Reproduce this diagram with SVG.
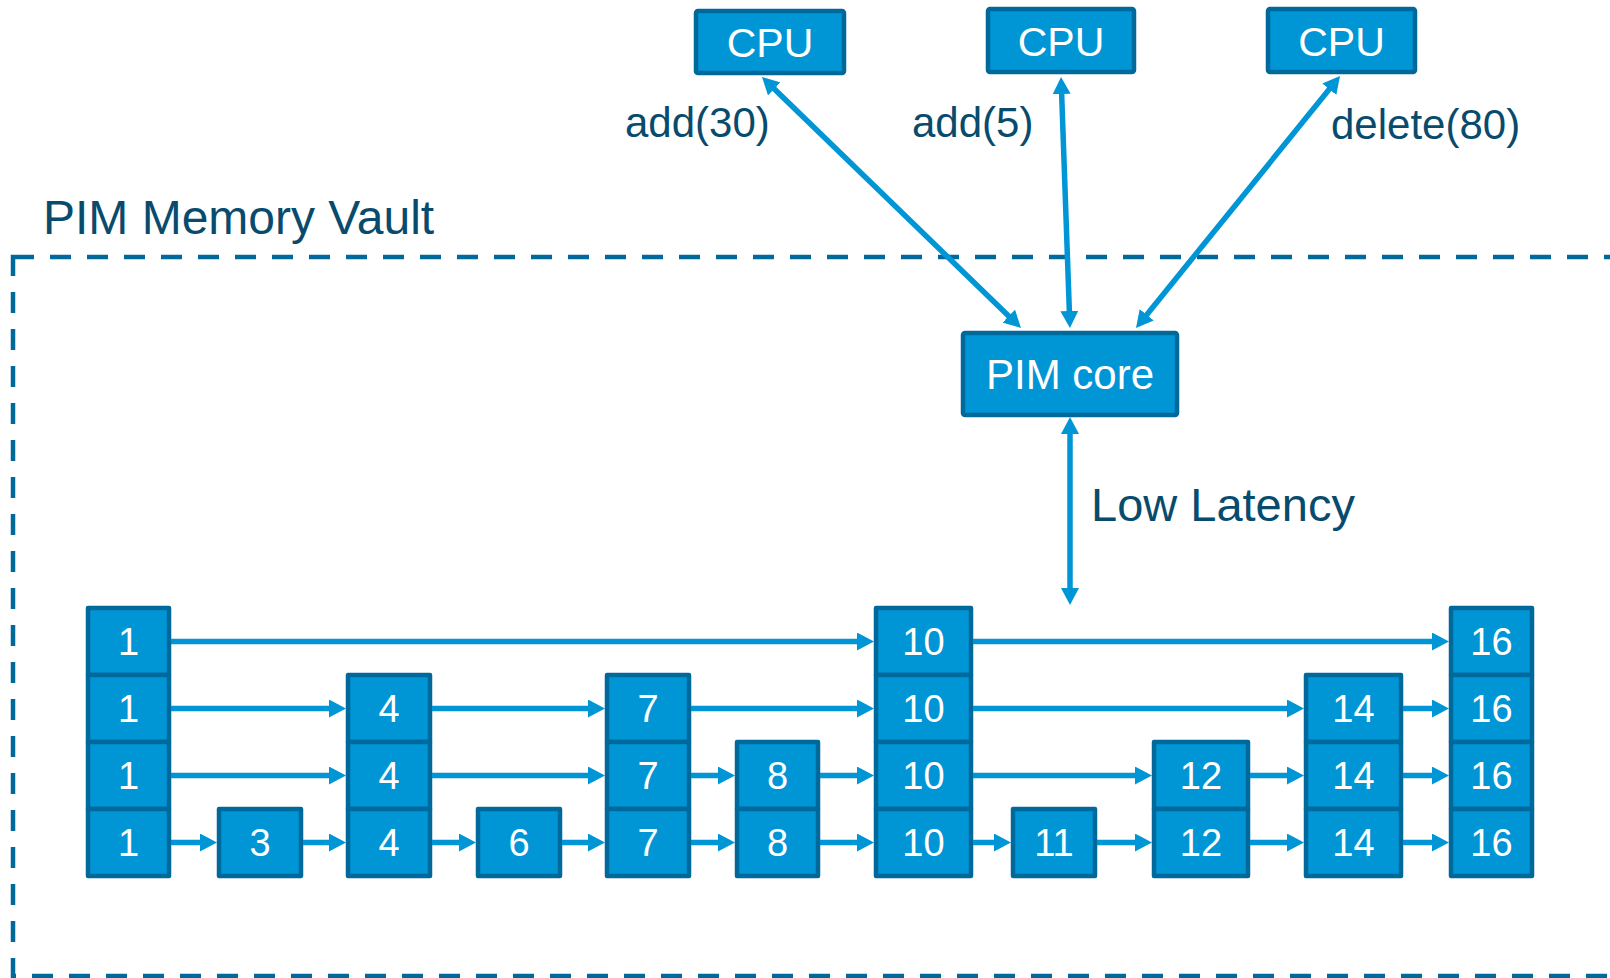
<svg xmlns="http://www.w3.org/2000/svg" width="1610" height="978" viewBox="0 0 1610 978">
  <style>
    .box { fill: #0096D6; stroke: #00699B; stroke-width: 4.5; stroke-linejoin: round; }
    .lbl { fill: #FFFFFF; font-family: "Liberation Sans", Arial, sans-serif; text-anchor: middle; }
    .num { font-size: 38px; }
    .cpu { font-size: 41px; }
    .note { fill: #084B6D; font-family: "Liberation Sans", Arial, sans-serif; }
    .link { stroke: #0096D6; stroke-width: 5.5; fill: none; }
    .one { marker-end: url(#head); }
    .two { marker-start: url(#head); marker-end: url(#head); }
  </style>
  <defs>
    <marker id="head" markerUnits="userSpaceOnUse" markerWidth="18" markerHeight="18" viewBox="0 0 18 18" refX="7" refY="9" orient="auto-start-reverse">
      <path d="M0,0 L17,9 L0,18 z" fill="#0096D6"/>
    </marker>
  </defs>

  <rect width="1610" height="978" fill="#FFFFFF"/>

  <!-- vault boundary -->
  <g id="vault">
    <rect x="13" y="257" width="1640" height="719" fill="none" stroke="#00699B" stroke-width="4.5" stroke-dasharray="21 16"/>
    <text class="note" x="43" y="234" font-size="48">PIM Memory Vault</text>
  </g>

  <!-- processors -->
  <g id="cpu1">
    <rect class="box" x="696" y="11" width="148" height="62" rx="2"/>
    <text class="lbl cpu" x="770" y="57">CPU</text>
  </g>
  <g id="cpu2">
    <rect class="box" x="988" y="9" width="146" height="63" rx="2"/>
    <text class="lbl cpu" x="1061" y="56">CPU</text>
  </g>
  <g id="cpu3">
    <rect class="box" x="1268" y="9" width="147" height="63" rx="2"/>
    <text class="lbl cpu" x="1341.5" y="56">CPU</text>
  </g>
  <g id="pimcore">
    <rect class="box" x="963" y="333" width="214" height="82" rx="2"/>
    <text class="lbl" x="1070" y="389" font-size="42">PIM core</text>
  </g>

  <!-- operation labels -->
  <g id="ops">
    <text class="note" x="625" y="137" font-size="42">add(30)</text>
    <text class="note" x="912" y="137" font-size="42">add(5)</text>
    <text class="note" x="1331" y="139" font-size="42">delete(80)</text>
    <text class="note" x="1091" y="521" font-size="47">Low Latency</text>
  </g>

  <!-- skip list columns: stroke-centre grid rows 608/675/742/809/876 -->
  <g id="n1">
    <rect class="box" x="88" y="608" width="81" height="67"/>
    <rect class="box" x="88" y="675" width="81" height="67"/>
    <rect class="box" x="88" y="742" width="81" height="67"/>
    <rect class="box" x="88" y="809" width="81" height="67"/>
    <text class="lbl num" x="128.5" y="655">1</text>
    <text class="lbl num" x="128.5" y="722">1</text>
    <text class="lbl num" x="128.5" y="789">1</text>
    <text class="lbl num" x="128.5" y="856">1</text>
  </g>
  <g id="n3">
    <rect class="box" x="219" y="809" width="82" height="67"/>
    <text class="lbl num" x="260" y="856">3</text>
  </g>
  <g id="n4">
    <rect class="box" x="348" y="675" width="82" height="67"/>
    <rect class="box" x="348" y="742" width="82" height="67"/>
    <rect class="box" x="348" y="809" width="82" height="67"/>
    <text class="lbl num" x="389" y="722">4</text>
    <text class="lbl num" x="389" y="789">4</text>
    <text class="lbl num" x="389" y="856">4</text>
  </g>
  <g id="n6">
    <rect class="box" x="478" y="809" width="82" height="67"/>
    <text class="lbl num" x="519" y="856">6</text>
  </g>
  <g id="n7">
    <rect class="box" x="607" y="675" width="82" height="67"/>
    <rect class="box" x="607" y="742" width="82" height="67"/>
    <rect class="box" x="607" y="809" width="82" height="67"/>
    <text class="lbl num" x="648" y="722">7</text>
    <text class="lbl num" x="648" y="789">7</text>
    <text class="lbl num" x="648" y="856">7</text>
  </g>
  <g id="n8">
    <rect class="box" x="737" y="742" width="81" height="67"/>
    <rect class="box" x="737" y="809" width="81" height="67"/>
    <text class="lbl num" x="777.5" y="789">8</text>
    <text class="lbl num" x="777.5" y="856">8</text>
  </g>
  <g id="n10">
    <rect class="box" x="876" y="608" width="95" height="67"/>
    <rect class="box" x="876" y="675" width="95" height="67"/>
    <rect class="box" x="876" y="742" width="95" height="67"/>
    <rect class="box" x="876" y="809" width="95" height="67"/>
    <text class="lbl num" x="923.5" y="655">10</text>
    <text class="lbl num" x="923.5" y="722">10</text>
    <text class="lbl num" x="923.5" y="789">10</text>
    <text class="lbl num" x="923.5" y="856">10</text>
  </g>
  <g id="n11">
    <rect class="box" x="1013" y="809" width="82" height="67"/>
    <text class="lbl num" x="1054" y="856">11</text>
  </g>
  <g id="n12">
    <rect class="box" x="1154" y="742" width="94" height="67"/>
    <rect class="box" x="1154" y="809" width="94" height="67"/>
    <text class="lbl num" x="1201" y="789">12</text>
    <text class="lbl num" x="1201" y="856">12</text>
  </g>
  <g id="n14">
    <rect class="box" x="1306" y="675" width="95" height="67"/>
    <rect class="box" x="1306" y="742" width="95" height="67"/>
    <rect class="box" x="1306" y="809" width="95" height="67"/>
    <text class="lbl num" x="1353.5" y="722">14</text>
    <text class="lbl num" x="1353.5" y="789">14</text>
    <text class="lbl num" x="1353.5" y="856">14</text>
  </g>
  <g id="n16">
    <rect class="box" x="1451" y="608" width="81" height="67"/>
    <rect class="box" x="1451" y="675" width="81" height="67"/>
    <rect class="box" x="1451" y="742" width="81" height="67"/>
    <rect class="box" x="1451" y="809" width="81" height="67"/>
    <text class="lbl num" x="1491.5" y="655">16</text>
    <text class="lbl num" x="1491.5" y="722">16</text>
    <text class="lbl num" x="1491.5" y="789">16</text>
    <text class="lbl num" x="1491.5" y="856">16</text>
  </g>

  <!-- connectors: lines stop 10px short, arrowhead tip lands on the target edge -->
  <g id="connectors">
    <!-- CPU <-> PIM core -->
    <line class="link two" x1="769.2" y1="84" x2="1013.8" y2="321"/>
    <line class="link two" x1="1061.4" y1="87" x2="1069.6" y2="318"/>
    <line class="link two" x1="1333.7" y1="83.8" x2="1142.3" y2="320.2"/>
    <!-- PIM core <-> list -->
    <line class="link two" x1="1070" y1="427" x2="1070" y2="595" stroke-width="6"/>

    <!-- level 3 (y 641.5) -->
    <line class="link one" x1="171" y1="641.5" x2="864" y2="641.5"/>
    <line class="link one" x1="973" y1="641.5" x2="1439" y2="641.5"/>

    <!-- level 2 (y 708.5) -->
    <line class="link one" x1="171" y1="708.5" x2="336" y2="708.5"/>
    <line class="link one" x1="432" y1="708.5" x2="595" y2="708.5"/>
    <line class="link one" x1="691" y1="708.5" x2="864" y2="708.5"/>
    <line class="link one" x1="973" y1="708.5" x2="1294" y2="708.5"/>
    <line class="link one" x1="1403" y1="708.5" x2="1439" y2="708.5"/>

    <!-- level 1 (y 775.5) -->
    <line class="link one" x1="171" y1="775.5" x2="336" y2="775.5"/>
    <line class="link one" x1="432" y1="775.5" x2="595" y2="775.5"/>
    <line class="link one" x1="691" y1="775.5" x2="725" y2="775.5"/>
    <line class="link one" x1="820" y1="775.5" x2="864" y2="775.5"/>
    <line class="link one" x1="973" y1="775.5" x2="1142" y2="775.5"/>
    <line class="link one" x1="1250" y1="775.5" x2="1294" y2="775.5"/>
    <line class="link one" x1="1403" y1="775.5" x2="1439" y2="775.5"/>

    <!-- level 0 (y 842.5) -->
    <line class="link one" x1="171" y1="842.5" x2="207" y2="842.5"/>
    <line class="link one" x1="303" y1="842.5" x2="336" y2="842.5"/>
    <line class="link one" x1="432" y1="842.5" x2="466" y2="842.5"/>
    <line class="link one" x1="562" y1="842.5" x2="595" y2="842.5"/>
    <line class="link one" x1="691" y1="842.5" x2="725" y2="842.5"/>
    <line class="link one" x1="820" y1="842.5" x2="864" y2="842.5"/>
    <line class="link one" x1="973" y1="842.5" x2="1001" y2="842.5"/>
    <line class="link one" x1="1097" y1="842.5" x2="1142" y2="842.5"/>
    <line class="link one" x1="1250" y1="842.5" x2="1294" y2="842.5"/>
    <line class="link one" x1="1403" y1="842.5" x2="1439" y2="842.5"/>
  </g>
</svg>
